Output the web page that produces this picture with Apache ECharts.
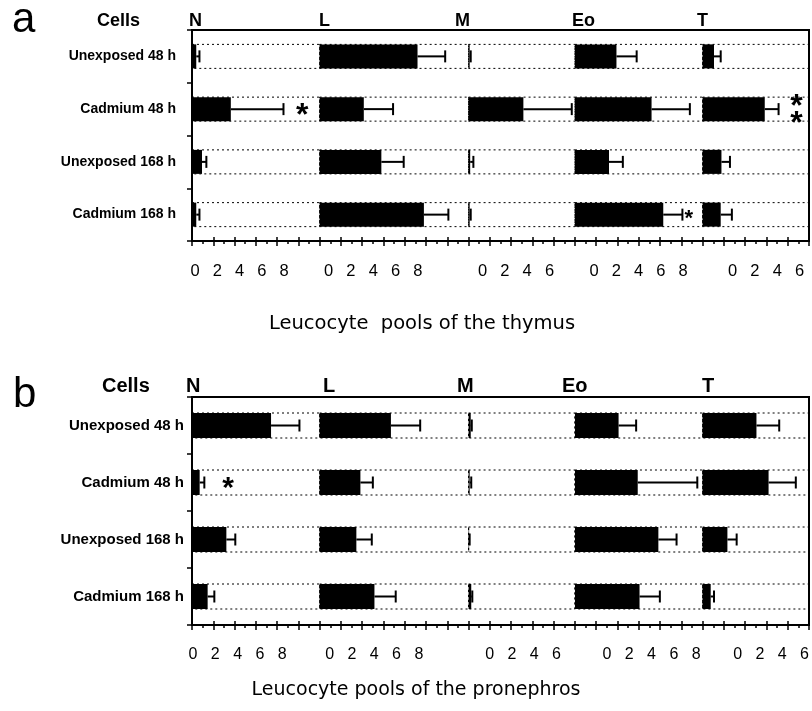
<!DOCTYPE html>
<html><head><meta charset="utf-8">
<script src="https://cdn.jsdelivr.net/npm/echarts@6/dist/echarts.min.js"></script>
<style>html,body{margin:0;padding:0;background:#fff}#c{width:812px;height:711px}</style>
</head><body><div id="c"></div>
<script>
// ---------------- DATA ----------------
const categories = ['Unexposed 48 h', 'Cadmium 48 h', 'Unexposed 168 h', 'Cadmium 168 h'];
const cellTypes = ['N', 'L', 'M', 'Eo', 'T'];
const axisMax = [12, 14, 10, 12, 10];          // scale length of each cell-type block
const tickLabels = [[0, 2, 4, 6, 8], [0, 2, 4, 6, 8], [0, 2, 4, 6], [0, 2, 4, 6, 8], [0, 2, 4, 6]];

// a: thymus (mean, error) per row
const thymusN  = [0.4, 3.65, 0.94, 0.4];   const thymusNErr  = [0.3, 4.95, 0.41, 0.3];
const thymusL  = [9.2, 4.15, 5.8, 9.8];    const thymusLErr  = [2.6, 2.75, 2.1, 2.3];
const thymusM  = [0.1, 5.15, 0.15, 0.1];   const thymusMErr  = [0.1, 4.55, 0.3, 0.1];
const thymusEo = [3.9, 7.2, 3.2, 8.3];     const thymusEoErr = [1.9, 3.6, 1.3, 1.8];
const thymusT  = [1.07, 5.84, 1.77, 1.7];  const thymusTErr  = [0.63, 1.3, 0.8, 1.05];
const thymusStars = [
  {cell: 0, row: 1, x: 10.35, text: '*'},
  {cell: 4, row: 1, x: 8.82, text: '*\n*'},
  {cell: 3, row: 3, x: 10.7, text: '*'}
];

// b: pronephros (mean, error) per row
const proN  = [7.43, 0.72, 3.23, 1.47];    const proNErr  = [2.67, 0.44, 0.84, 0.63];
const proL  = [6.7, 3.83, 3.45, 5.15];     const proLErr  = [2.75, 1.17, 1.45, 2.0];
const proM  = [0.2, 0.1, 0.05, 0.25];      const proMErr  = [0.1, 0.15, 0.05, 0.1];
const proEo = [4.1, 5.9, 7.84, 6.07];      const proEoErr = [1.65, 5.6, 1.71, 1.91];
const proT  = [5.06, 6.2, 2.33, 0.76];     const proTErr  = [2.14, 2.56, 0.87, 0.31];
const proStars = [
  {cell: 0, row: 1, x: 3.39, text: '*'}
];

// ---------------- LAYOUT / STYLE ----------------
const FONT = "'Liberation Sans', Arial, Helvetica, sans-serif";
const TFONT = "'DejaVu Sans', 'Liberation Sans', sans-serif";
const panels = [
  {
    letter: 'a', letterPos: [12, 20.4],
    title: 'Leucocyte  pools of the thymus', titlePos: [422, 324], titleFont: 19.5,
    left: 192, top: 30, width: 617, height: 211,
    means: [thymusN, thymusL, thymusM, thymusEo, thymusT],
    errs: [thymusNErr, thymusLErr, thymusMErr, thymusEoErr, thymusTErr],
    stars: thymusStars, starSizes: [32, 32, 22],
    labelOffsets: [3, 9, 14, 19, 30], labelStep: 22.3,
    catFont: 14, catMargin: 16, tickFont: 16.5, tickMargin: 22,
    headFont: 18, headY: 20.8, cellsX: 97, headX: [189, 319, 455, 572, 697],
    barW: 24
  },
  {
    letter: 'b', letterPos: [13, 395.4],
    title: 'Leucocyte pools of the pronephros', titlePos: [416, 690], titleFont: 19,
    left: 192, top: 397, width: 617, height: 228,
    means: [proN, proL, proM, proEo, proT],
    errs: [proNErr, proLErr, proMErr, proEoErr, proTErr],
    stars: proStars, starSizes: [30],
    labelOffsets: [1, 10, 21, 32, 35], labelStep: 22.3,
    catFont: 15, catMargin: 8, tickFont: 16, tickMargin: 22,
    headFont: 20, headY: 386, cellsX: 102, headX: [186, 323, 457, 562, 702],
    barW: 25
  }
];

const total = axisMax.reduce((a, b) => a + b, 0);
const cum = axisMax.reduce((acc, v, i) => { acc.push(acc[i] + v); return acc; }, [0]);

const grids = [], xAxes = [], yAxes = [], series = [], graphics = [];
function addGrid(g) {
  grids.push(Object.assign({show: false, containLabel: false, outerBoundsMode: 'none'}, g));
  return grids.length - 1;
}
const blackTick = {color: '#000', width: 1.5};

function errRender(params, api) {
  const y = api.value(1);
  const p0 = api.coord([api.value(0), y]);
  const p1 = api.coord([api.value(2), y]);
  const cap = 6;
  return {type: 'group', children: [
    {type: 'line', shape: {x1: p0[0], y1: p0[1], x2: p1[0], y2: p1[1]}, style: {stroke: '#000', lineWidth: 2}},
    {type: 'line', shape: {x1: p1[0], y1: p1[1] - cap, x2: p1[0], y2: p1[1] + cap}, style: {stroke: '#000', lineWidth: 2}}
  ]};
}

panels.forEach(P => {
  // frame
  const fi = addGrid({left: P.left, top: P.top, width: P.width, height: P.height,
    show: true, borderColor: '#000', borderWidth: 2, backgroundColor: 'rgba(0,0,0,0)'});
  xAxes.push({gridIndex: fi, type: 'value', min: 0, max: total, interval: 2,
    axisLine: {show: false}, axisTick: {show: true, inside: true, length: 4, lineStyle: blackTick},
    axisLabel: {show: false}, splitLine: {show: false}});
  yAxes.push({gridIndex: fi, type: 'value', show: false, splitLine: {show: false}});

  cellTypes.forEach((ct, g) => {
    const gl = P.left + cum[g] / total * P.width;
    const gw = axisMax[g] / total * P.width;
    const gi = addGrid({left: gl, top: P.top, width: gw, height: P.height});
    const xi = xAxes.length;
    xAxes.push({gridIndex: gi, type: 'value', min: 0, max: axisMax[g], interval: 2,
      axisLine: {show: false},
      axisTick: {show: true, length: 5, lineStyle: blackTick},
      minorTick: {show: true, splitNumber: 2, length: 3, lineStyle: blackTick},
      axisLabel: {show: false}, splitLine: {show: false}, minorSplitLine: {show: false}});
    const yi = yAxes.length;
    yAxes.push({gridIndex: gi, type: 'category', inverse: true, data: categories,
      axisLine: {show: false},
      axisTick: {show: g === 0, length: 5, lineStyle: blackTick},
      axisLabel: {show: g === 0, fontFamily: FONT, fontWeight: 'bold', fontSize: P.catFont, color: '#000', margin: P.catMargin},
      splitLine: {show: false}});

    // tick label axis for this block
    const labs = tickLabels[g];
    const lmax = labs[labs.length - 1];
    const li = addGrid({left: gl + P.labelOffsets[g], top: P.top, width: lmax / 2 * P.labelStep, height: P.height});
    xAxes.push({gridIndex: li, type: 'value', min: 0, max: lmax, interval: 2,
      axisLine: {show: false}, axisTick: {show: false}, splitLine: {show: false},
      axisLabel: {show: true, fontFamily: FONT, fontSize: P.tickFont, color: '#000', margin: P.tickMargin,
        showMinLabel: true, showMaxLabel: true, hideOverlap: false,
        formatter: v => labs.indexOf(v) >= 0 ? String(v) : ''}});
    yAxes.push({gridIndex: li, type: 'value', show: false, splitLine: {show: false}});

    series.push({type: 'bar', name: ct, xAxisIndex: xi, yAxisIndex: yi, data: P.means[g],
      barWidth: P.barW, itemStyle: {color: '#000'}, silent: true, animation: false,
      showBackground: true,
      backgroundStyle: {color: 'rgba(0,0,0,0)', borderColor: '#000', borderWidth: 1, borderType: [2, 3]}});
    series.push({type: 'custom', xAxisIndex: xi, yAxisIndex: yi, silent: true, animation: false,
      data: P.means[g].map((m, i) => [m, i, m + P.errs[g][i]]),
      renderItem: errRender});

    const st = P.stars.map((s, k) => ({s, size: P.starSizes[k]})).filter(o => o.s.cell === g);
    if (st.length) {
      series.push({type: 'custom', xAxisIndex: xi, yAxisIndex: yi, silent: true, animation: false,
        data: st.map(o => [o.s.x, o.s.row, o.size]),
        renderItem: (params, api) => {
          const o = st[params.dataIndex];
          const size = api.value(2);
          const p = api.coord([api.value(0), api.value(1)]);
          return {type: 'text', x: p[0], y: p[1] + 0.21 * size,
            style: {text: o.s.text, font: `bold ${size}px ${FONT}`, align: 'center', verticalAlign: 'middle',
              lineHeight: 17, fill: '#000'}};
        }});
    }

    graphics.push({type: 'text', x: P.headX[g], y: P.headY,
      style: {text: ct, font: `bold ${P.headFont}px ${FONT}`, align: 'left', verticalAlign: 'middle', fill: '#000'}});
  });

  graphics.push({type: 'text', x: P.cellsX, y: P.headY,
    style: {text: 'Cells', font: `bold ${P.headFont}px ${FONT}`, align: 'left', verticalAlign: 'middle', fill: '#000'}});
  graphics.push({type: 'text', x: P.letterPos[0], y: P.letterPos[1],
    style: {text: P.letter, font: `42px ${FONT}`, align: 'left', verticalAlign: 'middle', fill: '#000'}});
  graphics.push({type: 'text', x: P.titlePos[0], y: P.titlePos[1],
    style: {text: P.title, font: `${P.titleFont}px ${TFONT}`, align: 'center', verticalAlign: 'middle', fill: '#000'}});
});

const chart = echarts.init(document.getElementById('c'), null, {renderer: 'canvas'});
chart.setOption({
  animation: false,
  backgroundColor: '#fff',
  grid: grids, xAxis: xAxes, yAxis: yAxes, series: series,
  graphic: graphics
});
</script>
</body></html>
